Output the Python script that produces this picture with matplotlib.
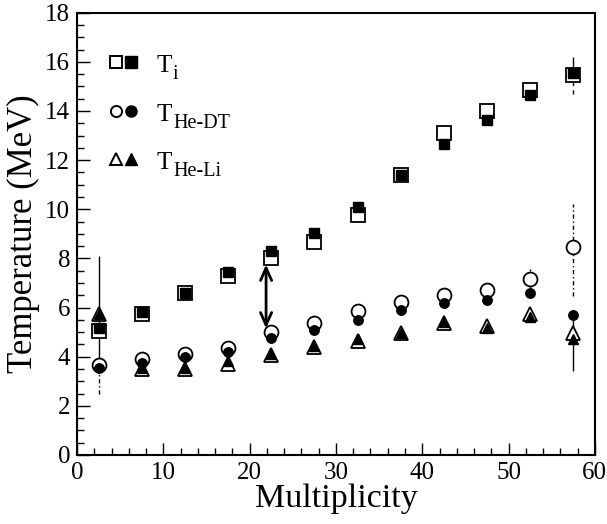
import numpy as np
import matplotlib.pyplot as plt
from matplotlib.legend_handler import HandlerTuple
from matplotlib.lines import Line2D

plt.rcParams['font.family'] = ['Liberation Serif', 'DejaVu Serif']

# multiplicity bins
mult = [2.5, 7.5, 12.5, 17.5, 22.5, 27.5, 32.5, 37.5, 42.5, 47.5, 52.5, 57.5]

# T_i (open / filled)
ti_open = [5.05, 5.75, 6.6, 7.3, 8.0, 8.65, 9.75, 11.4, 13.1, 14.0, 14.87, 15.45]
ti_full = [5.15, 5.8, 6.6, 7.45, 8.3, 9.05, 10.1, 11.4, 12.65, 13.65, 14.65, 15.55]

# T_He-DT
dt_open = [3.65, 3.9, 4.1, 4.35, 5.0, 5.38, 5.85, 6.22, 6.5, 6.73, 7.15, 8.45]
dt_full = [3.55, 3.75, 4.0, 4.2, 4.75, 5.08, 5.5, 5.9, 6.2, 6.3, 6.58, 5.68]

# T_He-Li
li_open = [5.75, 3.5, 3.5, 3.72, 4.07, 4.38, 4.63, 4.96, 5.39, 5.25, 5.72, 4.98]
li_full = [5.72, 3.55, 3.55, 3.82, 4.12, 4.45, 4.7, 4.97, 5.42, 5.18, 5.6, 4.72]

# error bars drawn in the figure: (x, y, err_low, err_high, style)
err_bars = [
    (2.5, 5.72, 2.37, 2.38, '-'),
    (2.5, 3.55, 1.05, 0.0, (0, (3, 2, 1, 2))),
    (57.5, 15.55, 0.0, 0.65, '-'),
    (57.5, 15.45, 0.75, 0.0, (0, (3, 3))),
    (57.5, 8.45, 2.0, 1.75, (0, (3, 2, 1, 2))),
    (57.5, 4.72, 1.32, 1.0, '-'),
    (52.5, 7.15, 0.55, 0.4, (0, (2, 2))),
]

# double arrow between T_i and T_He-DT
arrow_x = 21.9
arrow_y = (7.75, 5.15)

leg_main = ['T', 'T', 'T']
leg_sub = ['i', 'He-DT', 'He-Li']

fig = plt.figure(figsize=(6.07, 5.24), dpi=100)
ax = fig.add_axes([0.127, 0.1317, 0.853, 0.8441])

for x, y, lo, hi, ls in err_bars:
    eb = ax.errorbar([x], [y], yerr=[[lo], [hi]], fmt='none', ecolor='black',
                     elinewidth=1.0, capsize=0, zorder=1)
    eb[2][0].set_linestyle(ls)

ms_open = 10
ms_full = 6.8
kw_o = dict(linestyle='none', markerfacecolor='white', markeredgecolor='black',
            markeredgewidth=1.3, zorder=2)
kw_f = dict(linestyle='none', color='black', zorder=3)

ax.plot(mult, ti_open, marker='s', markersize=ms_open, **kw_o)
ax.plot(mult, ti_full, marker='s', markersize=ms_full, **kw_f)
ax.plot(mult, dt_open, marker='o', markersize=ms_open, **kw_o)
ax.plot(mult, dt_full, marker='o', markersize=ms_full, **kw_f)
ax.plot(mult, li_open, marker='^', markersize=ms_open, **kw_o)
ax.plot(mult, li_full, marker='^', markersize=ms_full, **kw_f)

ax.annotate('', xy=(arrow_x, arrow_y[0]), xytext=(arrow_x, arrow_y[1]),
            arrowprops=dict(arrowstyle='<->,head_length=0.9,head_width=0.4',
                            color='black', lw=2.0, shrinkA=0, shrinkB=0))

# legend: open + filled marker pairs
def pair(m):
    o = Line2D([], [], marker=m, markersize=8, linestyle='none',
               markerfacecolor='white', markeredgecolor='black', markeredgewidth=1.4)
    f = Line2D([], [], marker=m, markersize=8, linestyle='none', color='black')
    return (o, f)

handles = [pair('s'), pair('o'), pair('^')]
leg = ax.legend(handles, leg_main, handler_map={tuple: HandlerTuple(ndivide=None, pad=0.0)},
                loc='upper left', bbox_to_anchor=(0.06, 0.91), frameon=False,
                fontsize=18, handlelength=1.2, handleheight=1.0, handletextpad=0.75,
                labelspacing=0.95, borderaxespad=0, borderpad=0)
for t, sub in zip(leg.get_texts(), leg_sub):
    ax.annotate(sub, xy=(1, 0), xycoords=t, xytext=(0.5, -5),
                textcoords='offset points', fontsize=14.5, ha='left', va='bottom',
                zorder=10)

ax.set_xlim(0, 60)
ax.set_ylim(0, 18)
ax.set_xticks(np.arange(0, 61, 10))
ax.set_xticks(np.arange(0, 61, 2), minor=True)
ax.set_yticks(np.arange(0, 19, 2))
ax.set_yticks(np.arange(0, 18.1, 0.5), minor=True)
ax.tick_params(which='both', direction='in', top=False, right=False,
               labelsize=18, width=1.0, pad=5)
ax.tick_params(which='major', length=9)
ax.tick_params(which='minor', length=5)
for s in ax.spines.values():
    s.set_linewidth(1.5)

ax.set_xlabel('Multiplicity', fontsize=24.5, labelpad=0)
ax.set_ylabel('Temperature (MeV)', fontsize=25, labelpad=4)

fig.savefig('out.png', dpi=100)
